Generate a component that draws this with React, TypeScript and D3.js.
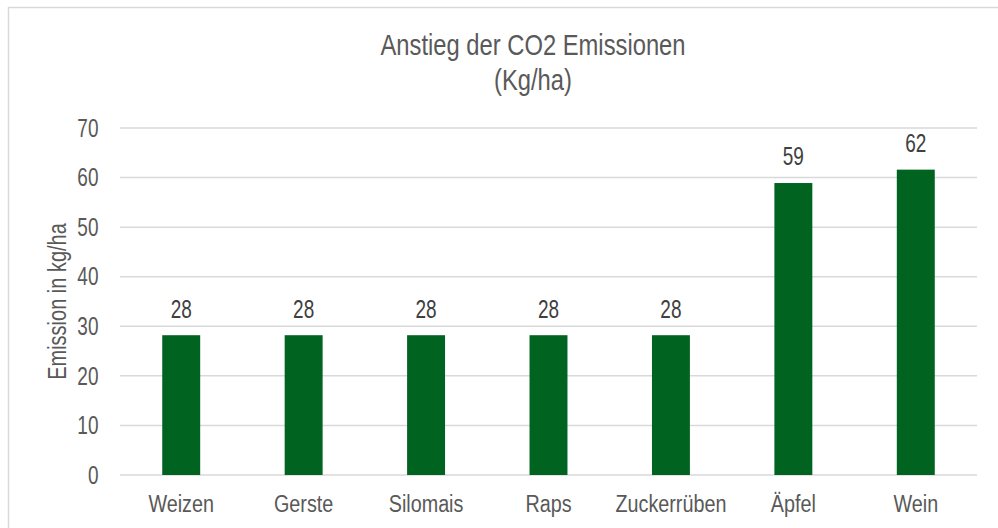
import React from "react";
import * as d3 from "d3";

const categories = ["Weizen", "Gerste", "Silomais", "Raps", "Zuckerrüben", "Äpfel", "Wein"];
const values = [28.2, 28.2, 28.2, 28.2, 28.2, 58.9, 61.6];
const labels = ["28", "28", "28", "28", "28", "59", "62"];
const yTicks = [0, 10, 20, 30, 40, 50, 60, 70];
const titleLines = ["Anstieg der CO2 Emissionen", "(Kg/ha)"];
const yAxisTitle = "Emission in kg/ha";

const W = 998;
const H = 528;
const FONT = "'Liberation Sans', Arial, sans-serif";
const SX = 0.78;

function T(props: { x: number; y: number; size: number; fill: string; anchor: string; sx?: number; rot?: number; children: React.ReactNode }) {
  const { x, y, size, fill, anchor, sx = SX, rot = 0, children } = props;
  return (
    <text
      transform={`translate(${x},${y}) rotate(${rot}) scale(${sx},1)`}
      textAnchor={anchor}
      fontFamily={FONT}
      fontSize={size}
      fill={fill}
    >
      {children}
    </text>
  );
}

export default function App() {
  const plotLeft = 120;
  const plotRight = 977;
  const plotTop = 128;
  const plotBottom = 475;

  const x = d3.scaleBand<string>().domain(categories).range([plotLeft, plotRight]).paddingInner(0.69).paddingOuter(0.345);
  const y = d3.scaleLinear().domain([0, 70]).range([plotBottom, plotTop]);

  return (
    <svg width={W} height={H} style={{ position: "absolute", left: 0, top: 0, background: "#fff" }}>
      <rect x={8.5} y={7.5} width={W + 20} height={H + 20} fill="#fff" stroke="#d9d9d9" strokeWidth={1.5} />
      {titleLines.map((t, i) => (
        <T key={i} x={533} y={55 + i * 35} size={29} fill="#595959" anchor="middle" sx={0.82}>
          {t}
        </T>
      ))}
      {yTicks.map((t) => (
        <g key={t}>
          <line x1={plotLeft} x2={plotRight} y1={y(t)} y2={y(t)} stroke="#d9d9d9" strokeWidth={1.5} />
          <T x={98.5} y={y(t) + 8.7} size={25} fill="#595959" anchor="end" sx={0.76}>
            {t}
          </T>
        </g>
      ))}
      <T x={65.5} y={(plotTop + plotBottom) / 2} size={25} fill="#595959" anchor="middle" rot={-90} sx={0.8}>
        {yAxisTitle}
      </T>
      {categories.map((c, i) => (
        <g key={c}>
          <rect x={x(c)} y={y(values[i])} width={x.bandwidth()} height={plotBottom - y(values[i])} fill="#006420" />
          <T x={x(c)! + x.bandwidth() / 2} y={y(values[i]) - 17.7} size={25} fill="#404040" anchor="middle" sx={0.76}>
            {labels[i]}
          </T>
          <T x={x(c)! + x.bandwidth() / 2} y={511.7} size={24.7} fill="#595959" anchor="middle" sx={0.8}>
            {c}
          </T>
        </g>
      ))}
    </svg>
  );
}
